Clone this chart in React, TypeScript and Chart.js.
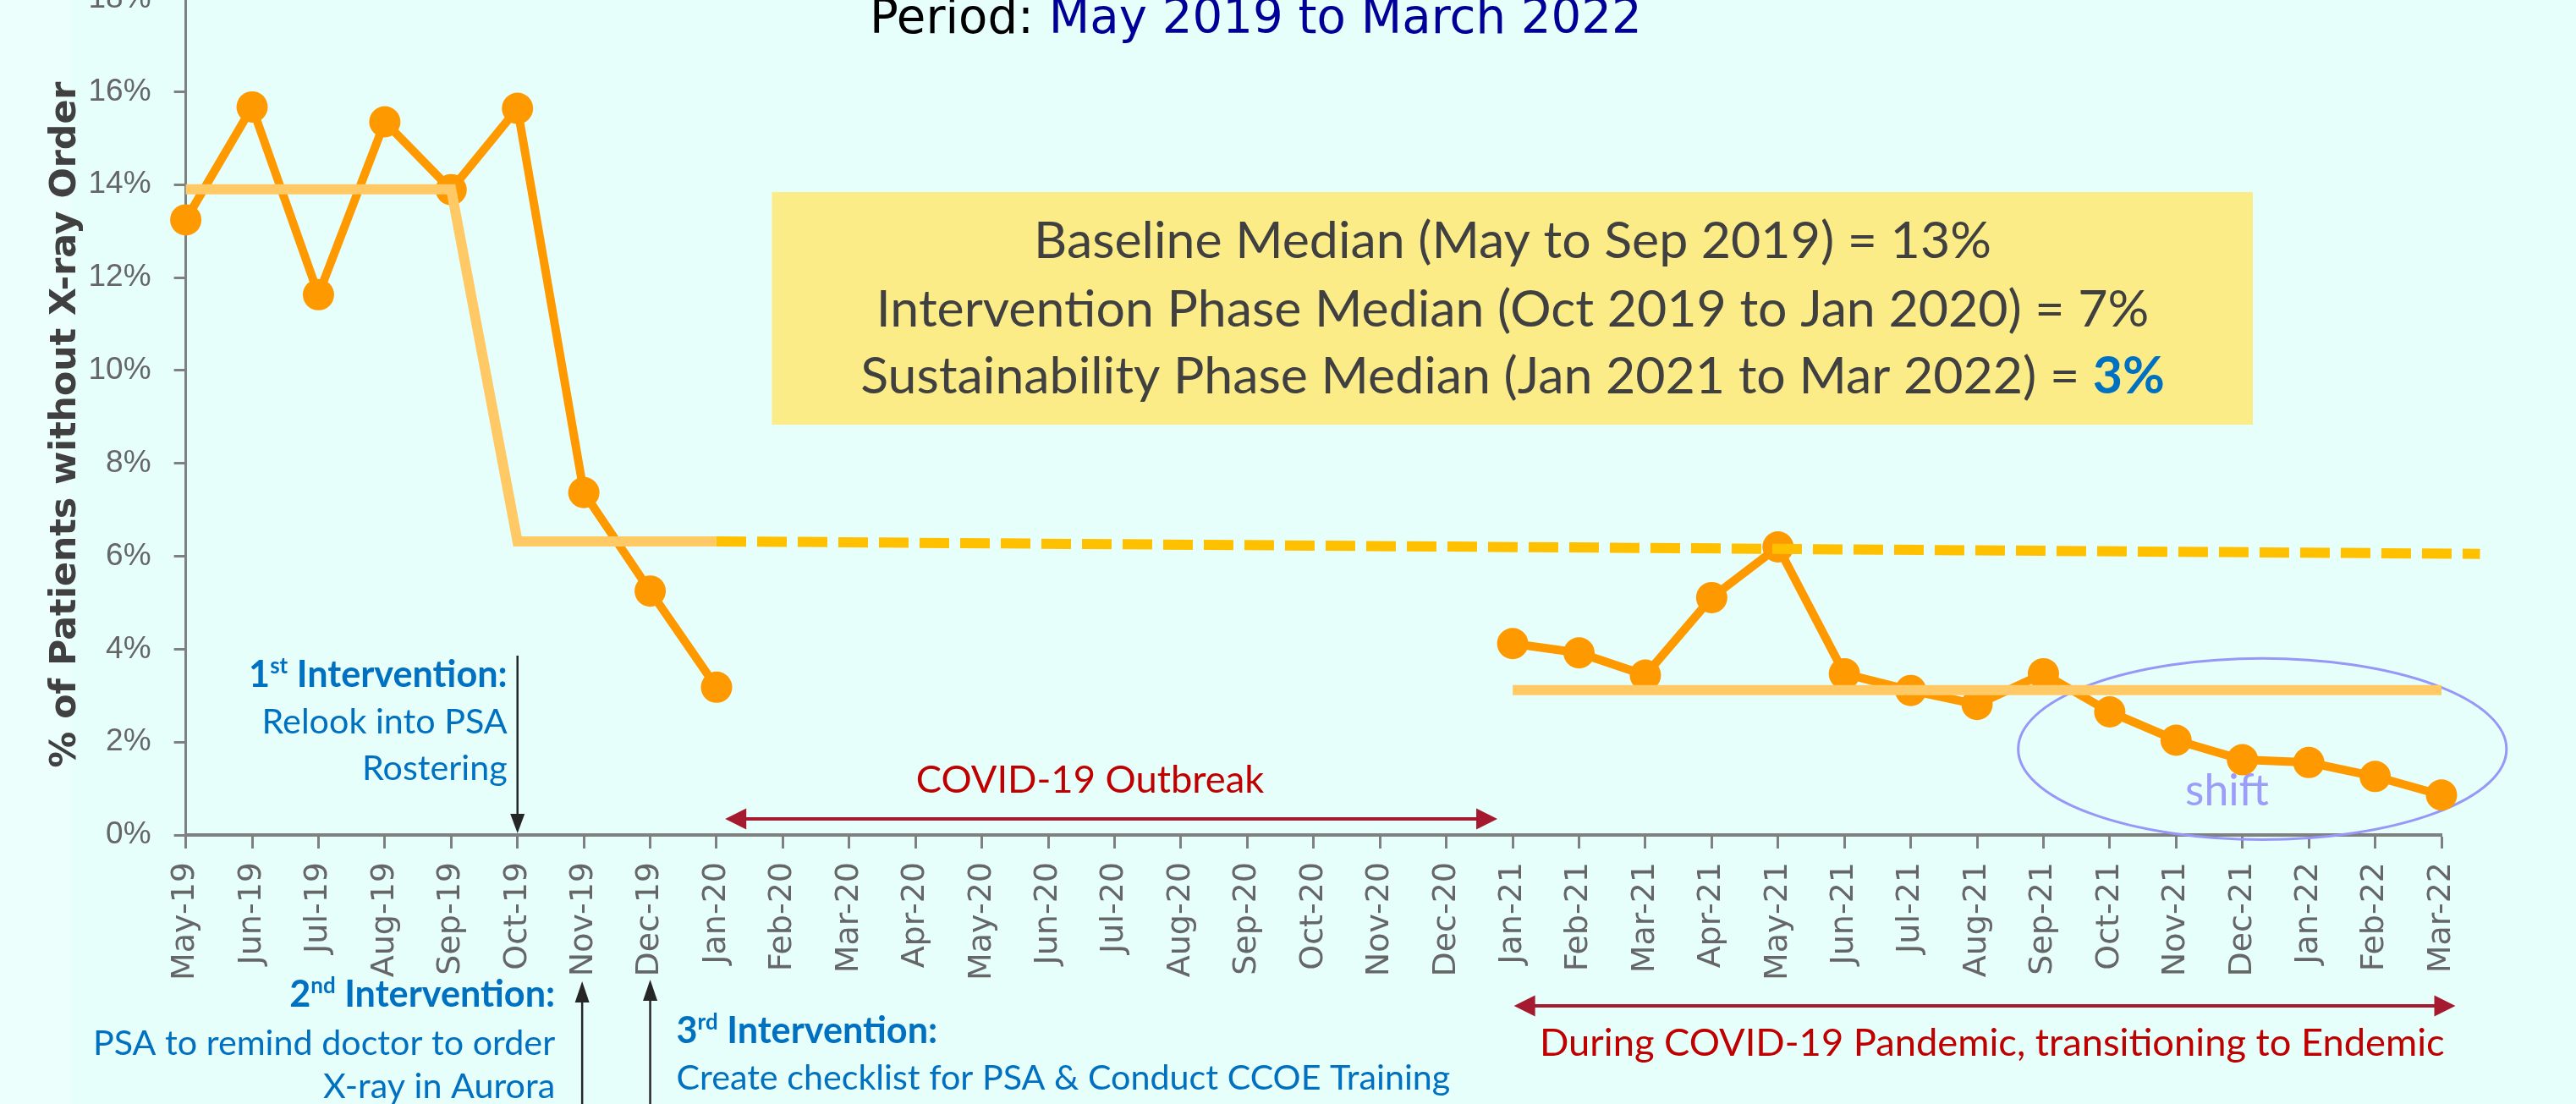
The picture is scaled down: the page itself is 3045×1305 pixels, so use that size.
import React, { useEffect, useRef } from "react";
import { Chart, registerables } from "chart.js";

Chart.register(...registerables);

// ---------------- data ----------------
const months = [
  "May-19", "Jun-19", "Jul-19", "Aug-19", "Sep-19", "Oct-19", "Nov-19", "Dec-19",
  "Jan-20", "Feb-20", "Mar-20", "Apr-20", "May-20", "Jun-20", "Jul-20", "Aug-20",
  "Sep-20", "Oct-20", "Nov-20", "Dec-20", "Jan-21", "Feb-21", "Mar-21", "Apr-21",
  "May-21", "Jun-21", "Jul-21", "Aug-21", "Sep-21", "Oct-21", "Nov-21", "Dec-21",
  "Jan-22", "Feb-22", "Mar-22",
];

const pctWithoutXray: (number | null)[] = [
  13.24, 15.67, 11.63, 15.35, 13.89, 15.64, 7.37, 5.25, 3.18,
  null, null, null, null, null, null, null, null, null, null, null,
  4.12, 3.92, 3.44, 5.11, 6.2, 3.47, 3.11, 2.81, 3.47, 2.65, 2.04, 1.62, 1.56, 1.26, 0.86,
];

// baseline median (May-Sep 19) dropping to intervention median (Oct 19 - Jan 20)
const phaseMedianX = [0, 4, 5, 8];
const phaseMedianY = [13.9, 13.9, 6.32, 6.32];
// projected (dashed) continuation of intervention median
const projectedMedianX = [8, 34.58];
const projectedMedianY = [6.32, 6.05];
// sustainability phase median (Jan 21 - Mar 22)
const sustainMedianX = [20, 34];
const sustainMedianY = [3.12, 3.12];

const yMin = 0;
const yMax = 18;
const yStep = 2;

const boxLines = [
  "Baseline Median (May to Sep 2019) = 13%",
  "Intervention Phase Median (Oct 2019 to Jan 2020) = 7%",
  "Sustainability Phase Median (Jan 2021 to Mar 2022) = ",
];
const boxHighlight = "3%";

// ---------------- layout ----------------
const W = 3045;
const H = 1305;
const OFF = 40; // canvas is shifted up so that the top of the axis is cut like the reference
const BG = "#E6FFFB";
const AXIS = "#808080";
const TICK_TXT = "#666666";
const BLUE = "#0070C0";
const RED = "#C00000";
const ARROW_RED = "#A51A2F";
const DARK = "#262626";

type Part = { t: string; w?: string; c: string; rel?: number; dy?: number };

function richWidth(ctx: CanvasRenderingContext2D, parts: Part[], size: number, fam: string) {
  let w = 0;
  for (const p of parts) {
    ctx.font = `${p.w || "normal"} ${size * (p.rel || 1)}px ${fam}`;
    w += ctx.measureText(p.t).width;
  }
  return w;
}
function fitRich(ctx: CanvasRenderingContext2D, parts: Part[], fam: string, target: number) {
  return (100 * target) / richWidth(ctx, parts, 100, fam);
}
function drawRich(
  ctx: CanvasRenderingContext2D, parts: Part[], size: number, fam: string,
  x: number, y: number, align: "left" | "right" | "center"
) {
  const tw = richWidth(ctx, parts, size, fam);
  let cx = align === "left" ? x : align === "right" ? x - tw : x - tw / 2;
  ctx.textAlign = "left";
  ctx.textBaseline = "alphabetic";
  for (const p of parts) {
    ctx.font = `${p.w || "normal"} ${size * (p.rel || 1)}px ${fam}`;
    ctx.fillStyle = p.c;
    ctx.fillText(p.t, cx, y + (p.dy || 0) * size);
    cx += ctx.measureText(p.t).width;
  }
}

function arrowHead(ctx: CanvasRenderingContext2D, tx: number, ty: number, ang: number, len: number, half: number) {
  ctx.beginPath();
  ctx.moveTo(tx, ty);
  ctx.lineTo(tx - len * Math.cos(ang) - half * Math.sin(ang), ty - len * Math.sin(ang) + half * Math.cos(ang));
  ctx.lineTo(tx - len * Math.cos(ang) + half * Math.sin(ang), ty - len * Math.sin(ang) - half * Math.cos(ang));
  ctx.closePath();
  ctx.fill();
}

function arrow(
  ctx: CanvasRenderingContext2D, x1: number, y1: number, x2: number, y2: number,
  color: string, lw: number, len: number, half: number, both = false
) {
  const ang = Math.atan2(y2 - y1, x2 - x1);
  ctx.strokeStyle = color;
  ctx.fillStyle = color;
  ctx.lineWidth = lw;
  ctx.beginPath();
  const sx = both ? x1 + (len - 2) * Math.cos(ang) : x1;
  const sy = both ? y1 + (len - 2) * Math.sin(ang) : y1;
  ctx.moveTo(sx, sy);
  ctx.lineTo(x2 - (len - 2) * Math.cos(ang), y2 - (len - 2) * Math.sin(ang));
  ctx.stroke();
  arrowHead(ctx, x2, y2, ang, len, half);
  if (both) arrowHead(ctx, x1, y1, ang + Math.PI, len, half);
}

const annotationPlugin = {
  id: "qiAnnotations",
  beforeDatasetsDraw(chart: any) {
    const ctx: CanvasRenderingContext2D = chart.ctx;
    const xs = chart.scales.x;
    const ys = chart.scales.y;
    const px = (i: number) => xs.getPixelForValue(i);
    const py = (v: number) => ys.getPixelForValue(v) - OFF;
    ctx.save();
    ctx.translate(0, OFF);

    // ---- title ----
    const titleParts: Part[] = [
      { t: "Period: ", c: "#000000" },
      { t: "May 2019 to March 2022", c: "#000099" },
    ];
    const tS = fitRich(ctx, titleParts, "'DejaVu Sans'", 913);
    drawRich(ctx, titleParts, tS, "'DejaVu Sans'", 1028, 38.6, "left");

    // ---- y axis title ----
    const yt: Part[] = [{ t: "% of Patients without X-ray Order", w: "bold", c: "#404040" }];
    const yS = fitRich(ctx, yt, "'DejaVu Sans'", 811);
    ctx.save();
    ctx.translate(89, 502);
    ctx.rotate(-Math.PI / 2);
    drawRich(ctx, yt, yS, "'DejaVu Sans'", 0, 0, "center");
    ctx.restore();

    // ---- yellow summary box ----
    ctx.fillStyle = "#FBEC88";
    ctx.fillRect(912.5, 227, 2663 - 912.5, 502 - 227);
    const bFam = "Lato";
    const bS = fitRich(ctx, [{ t: boxLines[0], c: "#404040" }], bFam, 1132);
    const bCx = 1788;
    drawRich(ctx, [{ t: boxLines[0], c: "#404040" }], bS, bFam, bCx, 305, "center");
    drawRich(ctx, [{ t: boxLines[1], c: "#404040" }], bS, bFam, bCx, 385.5, "center");
    drawRich(ctx, [{ t: boxLines[2], c: "#404040" }, { t: boxHighlight, w: "bold", c: BLUE }], bS, bFam, bCx, 465, "center");

    // ---- interventions ----
    const iFam = "Lato";
    const head = (n: string, sup: string): Part[] => [
      { t: n, w: "bold", c: BLUE },
      { t: sup, w: "bold", c: BLUE, rel: 0.6, dy: -0.36 },
      { t: " Intervention:", w: "bold", c: BLUE },
    ];
    const hS = fitRich(ctx, head("2", "nd"), iFam, 314);
    const body = (t: string): Part[] => [{ t, c: BLUE }];
    const bodyS = fitRich(ctx, body("Create checklist for PSA & Conduct CCOE Training"), iFam, 915);

    // 1st
    const x1 = px(5);
    arrow(ctx, x1, 775, x1, py(0) - 2, DARK, 2.5, 23, 8.5);
    drawRich(ctx, head("1", "st"), hS, iFam, x1 - 12, 812, "right");
    drawRich(ctx, body("Relook into PSA"), bodyS, iFam, x1 - 12, 866.7, "right");
    drawRich(ctx, body("Rostering"), bodyS, iFam, x1 - 12, 921.7, "right");

    // 2nd
    const x2 = px(6) - 2;
    arrow(ctx, x2, H + 5, x2, 1160, DARK, 2.5, 25, 8.5);
    drawRich(ctx, head("2", "nd"), hS, iFam, x2 - 32, 1190, "right");
    drawRich(ctx, body("PSA to remind doctor to order"), bodyS, iFam, x2 - 32, 1246.7, "right");
    drawRich(ctx, body("X-ray in Aurora"), bodyS, iFam, x2 - 32, 1298, "right");

    // 3rd
    const x3 = px(7);
    arrow(ctx, x3, H + 5, x3, 1158, DARK, 2.5, 25, 8.5);
    drawRich(ctx, head("3", "rd"), hS, iFam, x3 + 31, 1233, "left");
    drawRich(ctx, body("Create checklist for PSA & Conduct CCOE Training"), bodyS, iFam, x3 + 31, 1288, "left");

    // ---- COVID periods ----
    const rParts = [{ t: "During COVID-19 Pandemic, transitioning to Endemic", c: RED }];
    const rS = fitRich(ctx, rParts, iFam, 1070);
    arrow(ctx, px(8.13), 968, px(19.77), 968, ARROW_RED, 4, 25, 12.5, true);
    drawRich(ctx, [{ t: "COVID-19 Outbreak", c: RED }], rS, iFam, px(13.63), 937, "center");
    arrow(ctx, px(20.02), 1189, px(34.21), 1189, ARROW_RED, 4, 25, 12.5, true);
    drawRich(ctx, rParts, rS, iFam, 1820, 1248, "left");

    // ---- shift ellipse ----
    const ecx = px(31.3);
    const ecy = py(1.85);
    const erx = px(31.3 + 3.68) - ecx;
    const ery = py(1.85 - 1.95) - ecy;
    ctx.strokeStyle = "#9797F7";
    ctx.lineWidth = 3;
    ctx.beginPath();
    ctx.ellipse(ecx, ecy, erx, ery, 0, 0, Math.PI * 2);
    ctx.stroke();
    const sParts = [{ t: "shift", c: "#9C9CFA" }];
    const sS = fitRich(ctx, sParts, iFam, 99);
    drawRich(ctx, sParts, sS, iFam, 2632.5, 952, "center");

    ctx.restore();
  },
};

export default function App() {
  const ref = useRef<HTMLCanvasElement | null>(null);

  useEffect(() => {
    const canvas = ref.current;
    if (!canvas) return;
    const pts = (xs: number[], ys: number[]) => xs.map((x, i) => ({ x, y: ys[i] }));
    const chart = new Chart(canvas, {
      type: "line",
      data: {
        datasets: [
          {
            label: "Phase median",
            data: pts(phaseMedianX, phaseMedianY),
            borderColor: "#FFCA66",
            borderWidth: 12,
            pointRadius: 0,
            tension: 0,
            order: 0,
            clip: false as any,
          },
          {
            label: "Projected median",
            data: pts(projectedMedianX, projectedMedianY),
            borderColor: "#FFC000",
            borderWidth: 12,
            borderDash: [35, 13],
            pointRadius: 0,
            tension: 0,
            order: 0,
            clip: false as any,
          },
          {
            label: "Sustainability median",
            data: pts(sustainMedianX, sustainMedianY),
            borderColor: "#FFCA66",
            borderWidth: 12,
            pointRadius: 0,
            tension: 0,
            order: 0,
            clip: false as any,
          },
          {
            label: "% of Patients without X-ray Order",
            data: pctWithoutXray.map((v, i) => ({ x: i, y: v })) as any,
            borderColor: "#FF9900",
            backgroundColor: "#FF9900",
            borderWidth: 10,
            pointRadius: 18.5,
            pointBackgroundColor: "#FF9900",
            pointBorderColor: "#FF9900",
            pointBorderWidth: 0,
            tension: 0,
            spanGaps: false,
            order: 1,
            clip: false as any,
          },
        ],
      },
      options: {
        animation: false,
        responsive: false,
        devicePixelRatio: 1,
        events: [],
        layout: { padding: { top: OFF - 1.5, right: W - 2886, bottom: 0, left: 0 } },
        plugins: {
          legend: { display: false },
          tooltip: { enabled: false },
          title: { display: false },
        },
        scales: {
          x: {
            type: "linear",
            min: 0,
            max: months.length - 1,
            ticks: {
              stepSize: 1,
              autoSkip: false,
              maxRotation: 90,
              minRotation: 90,
              padding: 16,
              color: TICK_TXT,
              font: { family: "'DejaVu Sans'", size: 38 },
              callback: (v: any) => months[Math.round(Number(v))] ?? "",
            },
            grid: { drawOnChartArea: false, tickLength: 16, tickWidth: 3, color: AXIS },
            border: { color: AXIS, width: 4 },
            afterFit: (s: any) => {
              s.height = H - 987;
              s.paddingLeft = 0;
              s.paddingRight = 0;
            },
          },
          y: {
            min: yMin,
            max: yMax,
            ticks: {
              stepSize: yStep,
              padding: 27,
              color: TICK_TXT,
              font: { family: "'Liberation Sans', Arial, sans-serif", size: 37 },
              callback: (v: any) => `${v}%`,
            },
            grid: { drawOnChartArea: false, tickLength: 14, tickWidth: 3, color: AXIS },
            border: { color: AXIS, width: 3 },
            afterFit: (s: any) => {
              s.width = 219.6;
              s.paddingTop = 0;
              s.paddingBottom = 0;
            },
          },
        },
      },
      plugins: [annotationPlugin],
    });
    return () => chart.destroy();
  }, []);

  return (
    <div
      style={{
        position: "fixed",
        left: 0,
        top: 0,
        width: W,
        height: H,
        overflow: "hidden",
        background: `linear-gradient(to right, #EDFFFD 0px, #EDFFFD 84px, ${BG} 84px)`,
      }}
    >
      <canvas
        ref={ref}
        width={W}
        height={H + OFF}
        style={{ position: "absolute", left: 0, top: -OFF, width: W, height: H + OFF }}
      />
    </div>
  );
}
